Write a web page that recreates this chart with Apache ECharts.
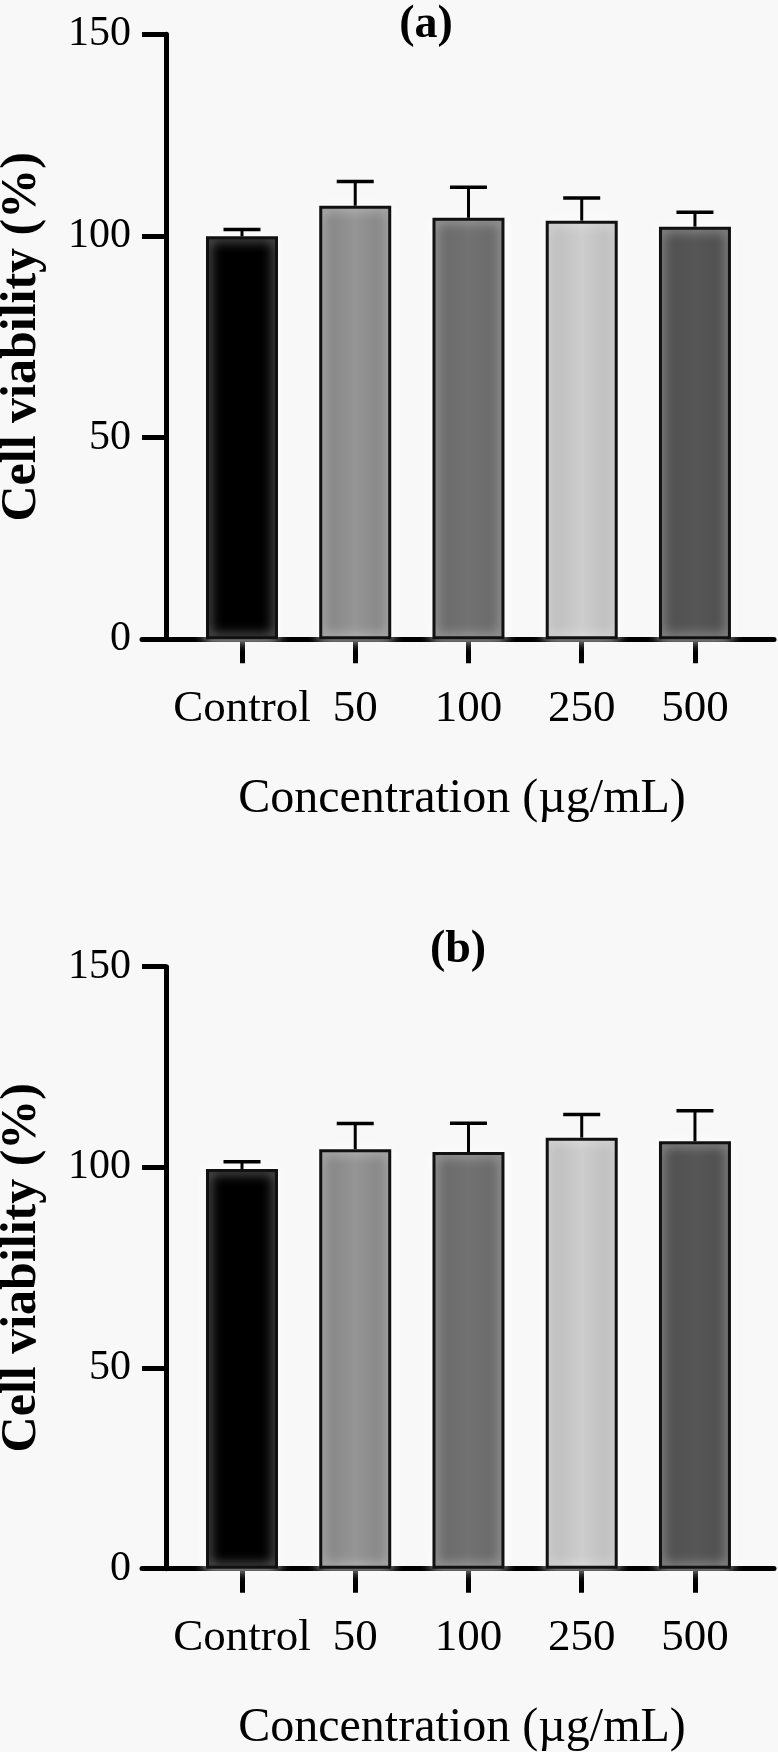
<!DOCTYPE html>
<html>
<head>
<meta charset="utf-8">
<script src="https://cdn.jsdelivr.net/npm/echarts@6/dist/echarts.min.js"></script>
<style>
html,body{margin:0;padding:0;background:#f8f8f8;}
#chart{width:778px;height:1752px;}
</style>
</head>
<body>
<div id="chart"></div>
<script>
// ---- data ----
const categories = ['Control', '50', '100', '250', '500'];
const meanA = [99.9, 107.5, 104.5, 103.8, 102.3];
const sdA   = [1.7, 6.0, 7.6, 5.6, 3.6];
const meanB = [99.6, 104.5, 103.8, 107.4, 106.5];
const sdB   = [1.8, 6.4, 7.2, 5.8, 7.6];
const yTicks = [0, 50, 100, 150];
const panelTitles = ['(a)', '(b)'];
const xTitle = 'Concentration (\u00B5g/mL)';
const yTitle = 'Cell viability (%)';

// ---- styles ----
const FONT = "'Liberation Serif', 'Times New Roman', serif";
const barFills = [
  '#000000',
  {type:'linear',x:0,y:0,x2:1,y2:0,colorStops:[{offset:0,color:'#828282'},{offset:0.5,color:'#959595'},{offset:1,color:'#828282'}]},
  {type:'linear',x:0,y:0,x2:1,y2:0,colorStops:[{offset:0,color:'#686868'},{offset:0.5,color:'#727272'},{offset:1,color:'#686868'}]},
  {type:'linear',x:0,y:0,x2:1,y2:0,colorStops:[{offset:0,color:'#bababa'},{offset:0.5,color:'#cdcdcd'},{offset:1,color:'#bababa'}]},
  {type:'linear',x:0,y:0,x2:1,y2:0,colorStops:[{offset:0,color:'#4e4e4e'},{offset:0.5,color:'#565656'},{offset:1,color:'#4e4e4e'}]}
];
const idx = categories.map((c, i) => i);

function xAxisFor(gi) {
  return {
    type: 'value', gridIndex: gi, min: -0.883, max: 4.698,
    axisLine: {show: true, onZero: false, lineStyle: {color: '#000', width: 5}},
    axisTick: {show: true, customValues: idx, length: 24, lineStyle: {color: '#000', width: 5}},
    axisLabel: {show: true, customValues: idx, margin: 47, fontFamily: FONT, fontSize: 45, color: '#000',
      formatter: v => categories[Math.round(v)]},
    splitLine: {show: false},
    name: xTitle, nameLocation: 'middle', nameGap: 136,
    nameTextStyle: {fontFamily: FONT, fontSize: 48, color: '#000', padding: [0, 0, 0, 8]}
  };
}
function yAxisFor(gi) {
  return {
    type: 'value', gridIndex: gi, min: yTicks[0], max: yTicks[yTicks.length - 1], interval: 50,
    offset: -24,
    axisLine: {show: true, onZero: false, lineStyle: {color: '#000', width: 5}},
    axisTick: {show: true, length: 24, lineStyle: {color: '#000', width: 5}},
    axisLabel: {margin: 35, fontFamily: FONT, fontSize: 42, color: '#000'},
    splitLine: {show: false},
    name: yTitle, nameLocation: 'middle', nameRotate: 90, nameGap: 119,
    nameTextStyle: {fontFamily: FONT, fontSize: 50, fontWeight: 'bold', color: '#000'}
  };
}
function barSeries(gi, means) {
  return {
    type: 'bar', xAxisIndex: gi, yAxisIndex: gi, barWidth: 72, z: 2,
    data: means.map((m, i) => ({
      value: [i, m],
      itemStyle: {color: barFills[i], borderColor: '#111', borderWidth: 3,
        shadowColor: 'rgba(255,255,255,0.9)', shadowBlur: 12}
    }))
  };
}
function errSeries(gi, means, sds) {
  return {
    type: 'custom', xAxisIndex: gi, yAxisIndex: gi, z: 3,
    data: means.map((m, i) => [i, m, m + sds[i]]),
    renderItem: function (params, api) {
      const p0 = api.coord([api.value(0), api.value(1)]);
      const p1 = api.coord([api.value(0), api.value(2)]);
      const half = 18.5;
      return {type: 'group', children: [
        {type: 'line', shape: {x1: p0[0], y1: p0[1], x2: p1[0], y2: p1[1]}, style: {stroke: '#000', lineWidth: 3}},
        {type: 'line', shape: {x1: p1[0] - half, y1: p1[1], x2: p1[0] + half, y2: p1[1]}, style: {stroke: '#000', lineWidth: 3.5}}
      ]};
    }
  };
}

const chart = echarts.init(document.getElementById('chart'), null, {renderer: 'canvas'});
chart.setOption({
  backgroundColor: '#f8f8f8',
  animation: false,
  title: [
    {text: panelTitles[0], left: 426, top: 2, textAlign: 'center', padding: 0,
     textStyle: {fontFamily: FONT, fontSize: 46, fontWeight: 'bold', color: '#000'}},
    {text: panelTitles[1], left: 458, top: 927, textAlign: 'center', padding: 0,
     textStyle: {fontFamily: FONT, fontSize: 46, fontWeight: 'bold', color: '#000'}}
  ],
  grid: [
    {left: 142, right: 4, top: 34.3, height: 605, containLabel: false, outerBoundsMode: 'none'},
    {left: 142, right: 4, top: 966.7, height: 602, containLabel: false, outerBoundsMode: 'none'}
  ],
  xAxis: [xAxisFor(0), xAxisFor(1)],
  yAxis: [yAxisFor(0), yAxisFor(1)],
  series: [
    barSeries(0, meanA), errSeries(0, meanA, sdA),
    barSeries(1, meanB), errSeries(1, meanB, sdB)
  ]
});
</script>
</body>
</html>
